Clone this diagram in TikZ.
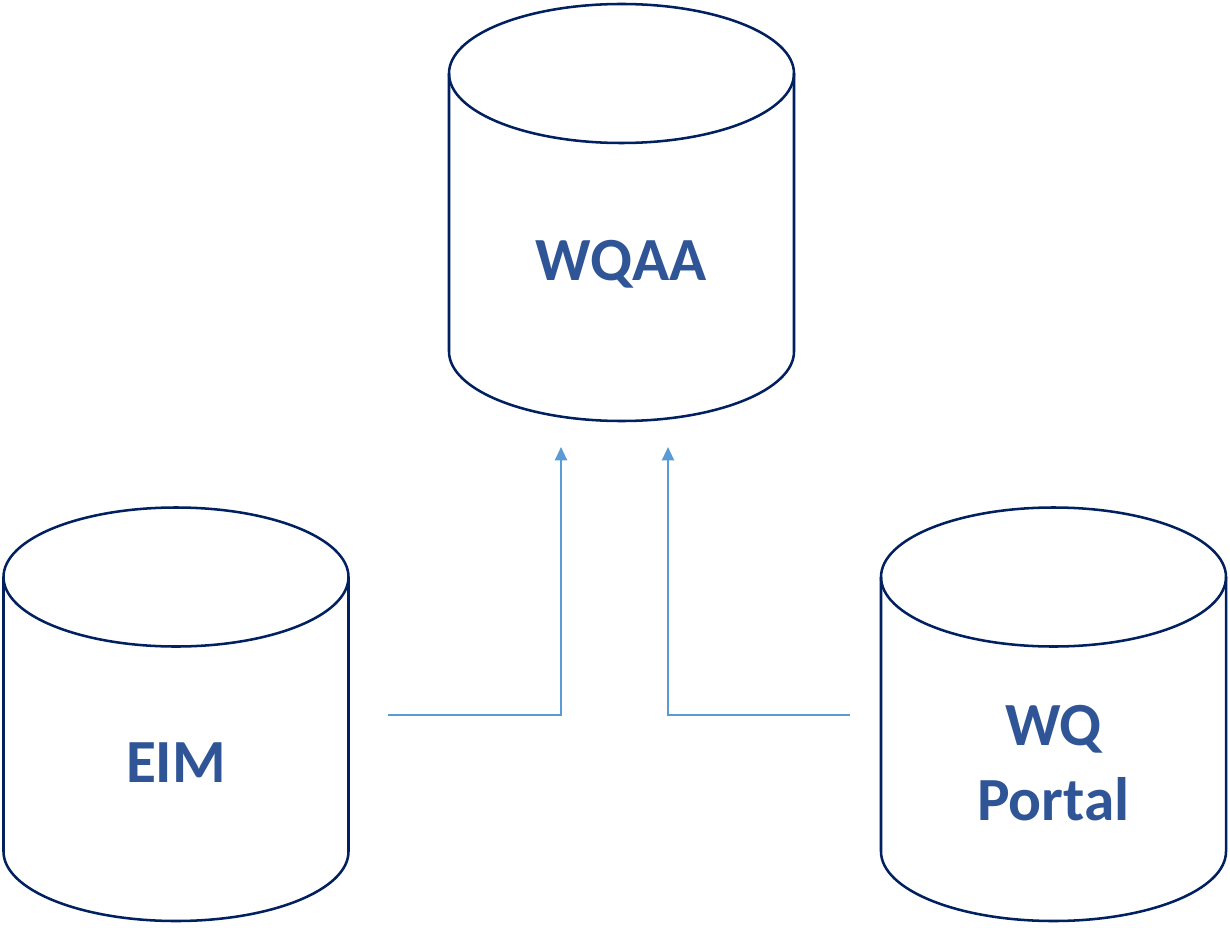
\documentclass[tikz,border=0pt]{standalone}
\usepackage{fontspec}
\setmainfont{Carlito}
\usepackage{tikz}
\usetikzlibrary{arrows.meta}

\definecolor{dbline}{HTML}{002060}
\definecolor{dbtext}{HTML}{2F5597}
\definecolor{flow}{HTML}{5B9BD5}

% cylinder: centre x, y of top ellipse, y of bottom ellipse
\newcommand{\dbcyl}[3]{%
  \draw[db] (#1,#2) ellipse [x radius=172.5, y radius=69.5];
  \draw[db] (#1-172.5,#2) -- (#1-172.5,#3) arc [start angle=180, end angle=0, x radius=172.5, y radius=69.5] -- (#1+172.5,#2);
}

\begin{document}
\begin{tikzpicture}[x=0.75pt, y=-0.75pt,
  db/.style={draw=dbline, line width=1.9pt},
  dblabel/.style={text=dbtext, font=\bfseries\fontsize{46}{56}\selectfont, align=center},
  feed/.style={draw=flow, line width=1.6pt, -{Triangle[length=10pt, width=9pt]}}]
\useasboundingbox (0,0) rectangle (1230,927);
\dbcyl{621.5}{73.5}{351.5}
\dbcyl{176}{577}{851.5}
\dbcyl{1053.5}{577}{851.5}
\node[dblabel] (wqaa) at (621.5,264) {WQAA};
\node[dblabel] (eim) at (176,763) {EIM};
\node[dblabel] (portal) at (1053.5,763) {WQ\\Portal};
\coordinate (eimout) at (388,715);
\coordinate (portalout) at (850,715);
\coordinate (inleft) at (561,447);
\coordinate (inright) at (668,447);
\draw[feed] (eimout) -| (inleft);
\draw[feed] (portalout) -| (inright);
\end{tikzpicture}
\end{document}
